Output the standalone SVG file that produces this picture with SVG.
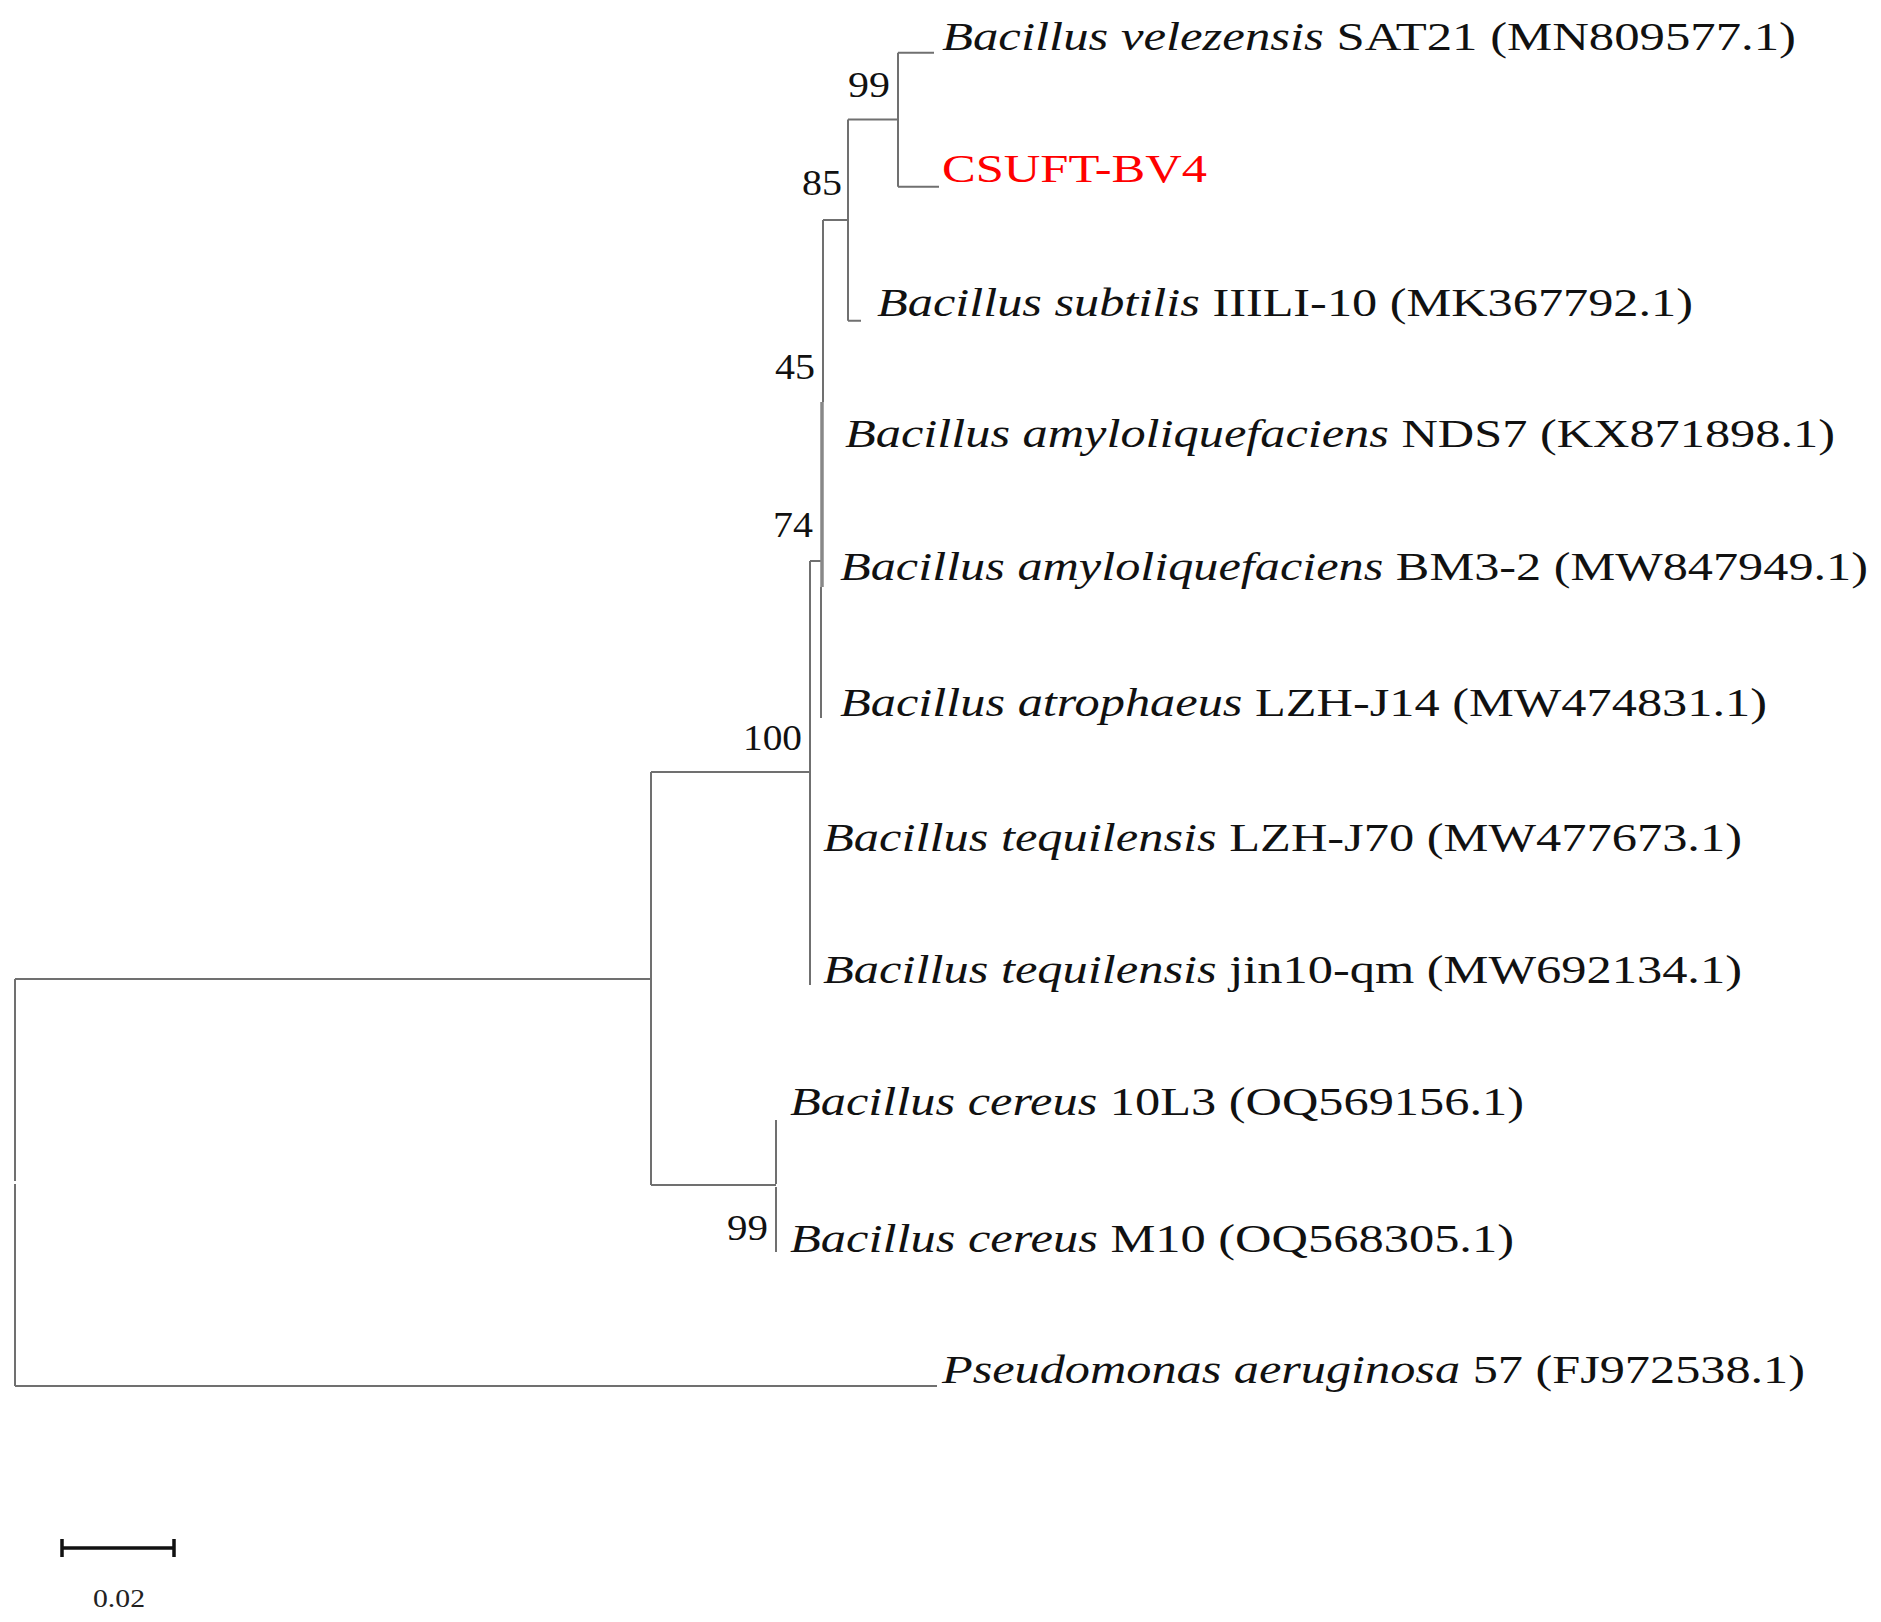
<svg xmlns="http://www.w3.org/2000/svg" width="1881" height="1622" viewBox="0 0 1881 1622">
<style>
.br{stroke:#707070;stroke-width:2;fill:none;stroke-linecap:butt}
.thick{stroke:#888;stroke-width:3.5;fill:none}
.lab{font-family:"Liberation Serif","Times New Roman",serif;font-size:40px;fill:#111}
.it{font-style:italic}
.sup{font-family:"Liberation Serif","Times New Roman",serif;font-size:35px;fill:#111;text-anchor:start}
.red{fill:#ff0000}
.sb{stroke:#111;stroke-width:3.5;fill:none}
</style>
<rect width="1881" height="1622" fill="#fff"/>
<g id="connectors">
<path class="br" d="M15,979 V1181 M15,1184 V1386"/>
<path class="br" d="M15,979 H651 M15,1386 H937"/>
<path class="br" d="M651,772 V1185 M651,772 H810 M651,1185 H776"/>
<path class="br" d="M776,1120 V1184 M776,1187 V1252"/>
<path class="br" d="M810,561 V985 M810,561 H821"/>
<path class="br" d="M823,220 V402"/>
<path class="thick" d="M822,402 V587"/>
<path class="br" d="M821,587 V718"/>
<path class="br" d="M823,220 H848"/>
<path class="br" d="M848,119.5 V320.7 M848,119.5 H898 M848,320.7 H861"/>
<path class="br" d="M898,52.7 V186.7 M898,52.7 H934 M898,186.7 H939"/>
</g>
<g id="node-velezensis"><text class="lab" x="942" y="50" textLength="854" lengthAdjust="spacingAndGlyphs"><tspan class="it">Bacillus velezensis</tspan> SAT21 (MN809577.1)</text></g>
<g id="node-csuft"><text class="lab red" x="942" y="182" textLength="265" lengthAdjust="spacingAndGlyphs">CSUFT-BV4</text></g>
<g id="node-subtilis"><text class="lab" x="877" y="316" textLength="816" lengthAdjust="spacingAndGlyphs"><tspan class="it">Bacillus subtilis</tspan> IIILI-10 (MK367792.1)</text></g>
<g id="node-nds7"><text class="lab" x="845" y="447" textLength="990" lengthAdjust="spacingAndGlyphs"><tspan class="it">Bacillus amyloliquefaciens</tspan> NDS7 (KX871898.1)</text></g>
<g id="node-bm32"><text class="lab" x="840" y="580" textLength="1028" lengthAdjust="spacingAndGlyphs"><tspan class="it">Bacillus amyloliquefaciens</tspan> BM3-2 (MW847949.1)</text></g>
<g id="node-atrophaeus"><text class="lab" x="840" y="716" textLength="927" lengthAdjust="spacingAndGlyphs"><tspan class="it">Bacillus atrophaeus</tspan> LZH-J14 (MW474831.1)</text></g>
<g id="node-lzhj70"><text class="lab" x="823" y="851" textLength="919" lengthAdjust="spacingAndGlyphs"><tspan class="it">Bacillus tequilensis</tspan> LZH-J70 (MW477673.1)</text></g>
<g id="node-jin10"><text class="lab" x="823" y="983" textLength="919" lengthAdjust="spacingAndGlyphs"><tspan class="it">Bacillus tequilensis</tspan> jin10-qm (MW692134.1)</text></g>
<g id="node-10l3"><text class="lab" x="790" y="1115" textLength="734" lengthAdjust="spacingAndGlyphs"><tspan class="it">Bacillus cereus</tspan> 10L3 (OQ569156.1)</text></g>
<g id="node-m10"><text class="lab" x="790" y="1252" textLength="724" lengthAdjust="spacingAndGlyphs"><tspan class="it">Bacillus cereus</tspan> M10 (OQ568305.1)</text></g>
<g id="node-pseudomonas"><text class="lab" x="942" y="1383" textLength="863" lengthAdjust="spacingAndGlyphs"><tspan class="it">Pseudomonas aeruginosa</tspan> 57 (FJ972538.1)</text></g>
<g id="support">
<text class="sup" x="848" y="97" textLength="42" lengthAdjust="spacingAndGlyphs">99</text>
<text class="sup" x="802" y="195" textLength="40" lengthAdjust="spacingAndGlyphs">85</text>
<text class="sup" x="775" y="379" textLength="40" lengthAdjust="spacingAndGlyphs">45</text>
<text class="sup" x="773" y="537" textLength="40" lengthAdjust="spacingAndGlyphs">74</text>
<text class="sup" x="743" y="750" textLength="59" lengthAdjust="spacingAndGlyphs">100</text>
<text class="sup" x="727" y="1240" textLength="41" lengthAdjust="spacingAndGlyphs">99</text>
</g>
<g id="scale-bar">
<path class="sb" d="M62,1548 H174 M62,1539 V1557 M174,1539 V1557"/>
<text x="93" y="1607" font-family="Liberation Serif, Times New Roman, serif" font-size="25" fill="#222" textLength="52" lengthAdjust="spacingAndGlyphs">0.02</text>
</g>
</svg>
